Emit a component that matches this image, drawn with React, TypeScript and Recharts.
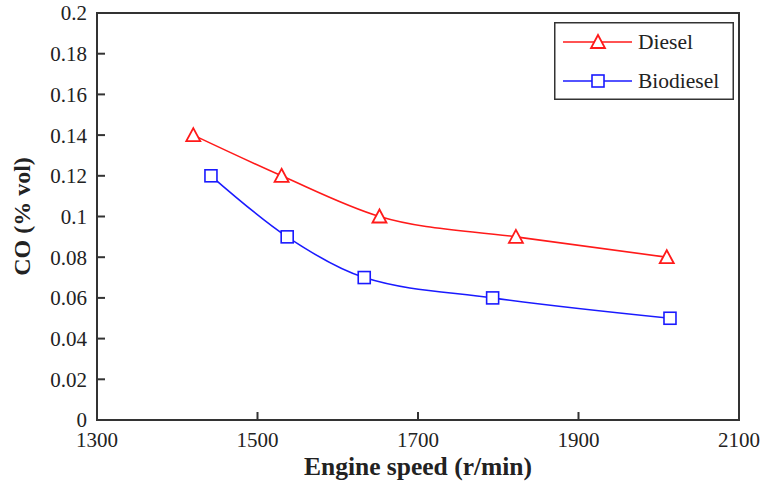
import React from "react";
import {
  ComposedChart,
  Line,
  ReferenceArea,
  XAxis,
  YAxis,
} from "recharts";

const DIESEL_RPM = [1420, 1530, 1652, 1822, 2010];
const DIESEL_CO = [0.14, 0.12, 0.1, 0.09, 0.08];
const BIO_RPM = [1442, 1537, 1633, 1793, 2014];
const BIO_CO = [0.12, 0.09, 0.07, 0.06, 0.05];

const X_TICKS = [1300, 1500, 1700, 1900, 2100];
const Y_TICKS = [0, 0.02, 0.04, 0.06, 0.08, 0.1, 0.12, 0.14, 0.16, 0.18, 0.2];

const FONT = "Liberation Serif";
const AXIS = "#333";
const RED = "#ff1a1a";
const BLUE = "#1a1aff";

const dieselData = DIESEL_RPM.map((rpm, i) => ({ rpm, co: DIESEL_CO[i] }));
const bioData = BIO_RPM.map((rpm, i) => ({ rpm, co: BIO_CO[i] }));

function Triangle({ cx, cy, color }: { cx: number; cy: number; color: string }) {
  return (
    <path
      d={`M${cx},${cy - 7} L${cx + 7},${cy + 6} L${cx - 7},${cy + 6} Z`}
      fill="#fff"
      stroke={color}
      strokeWidth={1.8}
    />
  );
}

function Square({ cx, cy, color }: { cx: number; cy: number; color: string }) {
  return (
    <rect
      x={cx - 6}
      y={cy - 6}
      width={12}
      height={12}
      fill="#fff"
      stroke={color}
      strokeWidth={1.6}
    />
  );
}

// legend sits inside the plot frame, top right
function LegendBox() {
  const rows = [
    { name: "Diesel", color: RED, Marker: Triangle },
    { name: "Biodiesel", color: BLUE, Marker: Square },
  ];
  return (
    <svg
      width={180}
      height={78}
      style={{ position: "absolute", left: 554, top: 22, display: "block" }}
    >
      <rect x={0.75} y={0.75} width={178.5} height={76.5} fill="#fff" stroke={AXIS} strokeWidth={1.5} />
      {rows.map((r, i) => {
        const y = 20 + i * 39;
        return (
          <g key={r.name}>
            <line x1={9} x2={78} y1={y} y2={y} stroke={r.color} strokeWidth={1.5} />
            <r.Marker cx={44} cy={y} color={r.color} />
            <text x={84} y={y + 7} fontFamily={FONT} fontSize={21.5} fill="#222">
              {r.name}
            </text>
          </g>
        );
      })}
    </svg>
  );
}

const fmt = (v: number) => String(Number(v.toFixed(2)));

export default function App() {
  return (
    <div
      style={{
        position: "absolute",
        left: 0,
        top: 0,
        width: 761,
        height: 484,
        background: "#fff",
        fontFamily: FONT,
      }}
    >
      <ComposedChart
        width={761}
        height={484}
        margin={{ top: 13, right: 22, bottom: 0, left: 0 }}
        style={{ fontFamily: FONT }}
      >
        <XAxis
          type="number"
          dataKey="rpm"
          domain={[1300, 2100]}
          ticks={X_TICKS}
          allowDataOverflow
          height={64}
          tickSize={-8}
          tickMargin={20}
          tickFormatter={fmt}
          axisLine={{ stroke: AXIS, strokeWidth: 2 }}
          tickLine={{ stroke: AXIS, strokeWidth: 2 }}
          tick={{ fill: "#222", fontSize: 21, fontFamily: FONT }}
          label={{
            value: "Engine speed (r/min)",
            position: "insideBottom",
            offset: 9,
            fill: "#222",
            fontSize: 25.5,
            fontWeight: "bold",
            fontFamily: FONT,
          }}
        />
        <YAxis
          type="number"
          domain={[0, 0.2]}
          ticks={Y_TICKS}
          width={97}
          tickSize={-8}
          tickMargin={18}
          tickFormatter={fmt}
          axisLine={{ stroke: AXIS, strokeWidth: 2 }}
          tickLine={{ stroke: AXIS, strokeWidth: 2 }}
          tick={{ fill: "#222", fontSize: 21, fontFamily: FONT }}
          label={{
            value: "CO (% vol)",
            angle: -90,
            position: "insideLeft",
            offset: 21,
            style: { textAnchor: "middle" },
            fill: "#222",
            fontSize: 24,
            fontWeight: "bold",
            fontFamily: FONT,
          }}
        />
        {/* closes the frame on the top and right sides */}
        <ReferenceArea
          x1={1300}
          x2={2100}
          y1={0}
          y2={0.2}
          fill="none"
          stroke={AXIS}
          strokeWidth={2}
          ifOverflow="visible"
        />
        <Line
          data={dieselData}
          dataKey="co"
          name="Diesel"
          type="monotone"
          stroke={RED}
          strokeWidth={1.6}
          isAnimationActive={false}
          dot={(p: any) => <Triangle key={`d-${p.index}`} cx={p.cx} cy={p.cy} color={RED} />}
          activeDot={false}
        />
        <Line
          data={bioData}
          dataKey="co"
          name="Biodiesel"
          type="monotone"
          stroke={BLUE}
          strokeWidth={1.6}
          isAnimationActive={false}
          dot={(p: any) => <Square key={`b-${p.index}`} cx={p.cx} cy={p.cy} color={BLUE} />}
          activeDot={false}
        />
      </ComposedChart>
      <LegendBox />
    </div>
  );
}
